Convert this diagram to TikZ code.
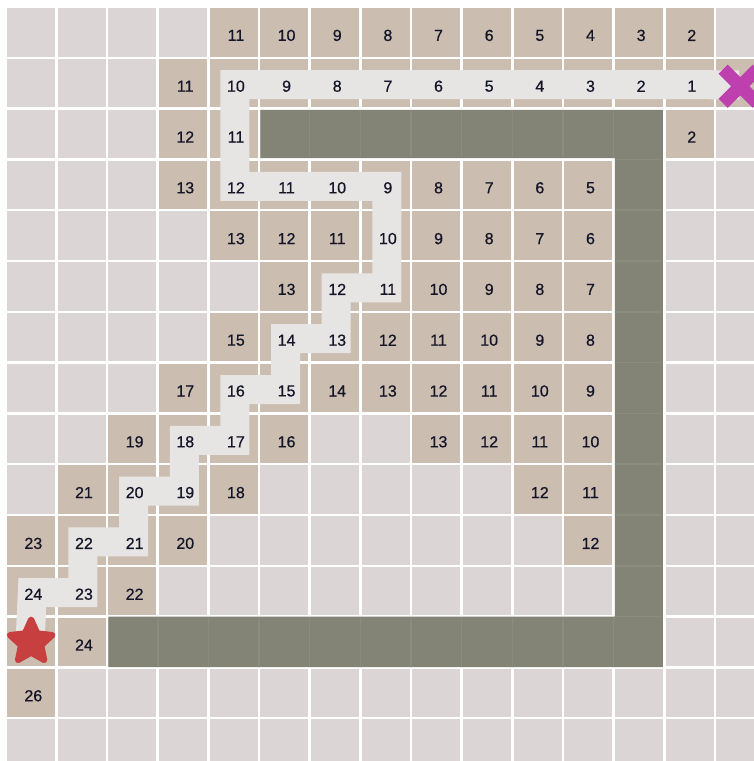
\documentclass[tikz,border=0pt]{standalone}
\usepackage{fontspec}
\setmainfont{Liberation Sans}
\newfontfamily\numfont[FakeBold=0.6]{Liberation Sans}
\usetikzlibrary{shapes.geometric,shapes.misc}
\definecolor{cellbg}{HTML}{DCD5D6}
\definecolor{celltan}{HTML}{CBBEB1}
\definecolor{pathc}{HTML}{E6E5E4}
\definecolor{wallc}{HTML}{838376}
\definecolor{wallseam}{HTML}{8B8B7F}
\definecolor{xmag}{HTML}{BD40AE}
\definecolor{starred}{HTML}{C73F3E}
\definecolor{numc}{HTML}{151528}
\pgfdeclarelayer{back}
\pgfsetlayers{back,main}
\tikzset{
  lbl/.style={font=\numfont\fontsize{16}{16}\selectfont, text=numc, inner sep=0pt, xshift=2.2pt, yshift=-3pt},
  cellfill/.style={fill=cellbg},
  tanfill/.style={fill=celltan},
  seam/.style={draw=wallseam, line width=1.5pt},
  pathband/.style={draw=pathc, line width=29pt, line join=miter, line cap=butt},
  goal/.style={cross out, draw=xmag, line width=13pt, minimum size=34pt, inner sep=0pt, outer sep=0pt},
  startstar/.style={star, star points=5, star point ratio=2.1, minimum size=45pt, inner sep=0pt,
    fill=starred, draw=starred, line width=6pt, line join=round}
}
\begin{document}
\begin{tikzpicture}[x=50.65pt, y=-50.8pt]
\useasboundingbox (-0.11451,-0.13780) rectangle (14.7522,14.8425);
% numbers
\foreach \c/\r/\t in {
 4/0/11,5/0/10,6/0/9,7/0/8,8/0/7,9/0/6,10/0/5,11/0/4,12/0/3,13/0/2,
 3/1/11,4/1/10,5/1/9,6/1/8,7/1/7,8/1/6,9/1/5,10/1/4,11/1/3,12/1/2,13/1/1,
 3/2/12,4/2/11,13/2/2,
 3/3/13,4/3/12,5/3/11,6/3/10,7/3/9,8/3/8,9/3/7,10/3/6,11/3/5,
 4/4/13,5/4/12,6/4/11,7/4/10,8/4/9,9/4/8,10/4/7,11/4/6,
 5/5/13,6/5/12,7/5/11,8/5/10,9/5/9,10/5/8,11/5/7,
 4/6/15,5/6/14,6/6/13,7/6/12,8/6/11,9/6/10,10/6/9,11/6/8,
 3/7/17,4/7/16,5/7/15,6/7/14,7/7/13,8/7/12,9/7/11,10/7/10,11/7/9,
 2/8/19,3/8/18,4/8/17,5/8/16,8/8/13,9/8/12,10/8/11,11/8/10,
 1/9/21,2/9/20,3/9/19,4/9/18,10/9/12,11/9/11,
 0/10/23,1/10/22,2/10/21,3/10/20,11/10/12,
 0/11/24,1/11/23,2/11/22,
 1/12/24,
 0/13/26}
 \node[lbl] (n-\c-\r) at (\c+0.5,\r+0.5) {\t};
\node[goal] (goal) at (14.5,1.56) {};
\node[startstar] (start) at (0.5,12.5) {};
\begin{pgfonlayer}{back}
\fill[white] (-0.11451,-0.13780) rectangle (14.7522,14.8425);
\foreach \c in {0,...,14}
  \foreach \r in {0,...,14}
    \fill[cellfill] (\c+0.025,\r+0.025) rectangle (\c+0.975,\r+0.975);
\foreach \c/\r in {
 4/0,5/0,6/0,7/0,8/0,9/0,10/0,11/0,12/0,13/0,
 3/1,4/1,5/1,6/1,7/1,8/1,9/1,10/1,11/1,12/1,13/1,14/1,
 3/2,4/2,13/2,
 3/3,4/3,5/3,6/3,7/3,8/3,9/3,10/3,11/3,
 4/4,5/4,6/4,7/4,8/4,9/4,10/4,11/4,
 5/5,6/5,7/5,8/5,9/5,10/5,11/5,
 4/6,5/6,6/6,7/6,8/6,9/6,10/6,11/6,
 3/7,4/7,5/7,6/7,7/7,8/7,9/7,10/7,11/7,
 2/8,3/8,4/8,5/8,8/8,9/8,10/8,11/8,
 1/9,2/9,3/9,4/9,10/9,11/9,
 0/10,1/10,2/10,3/10,11/10,
 0/11,1/11,2/11,
 0/12,1/12,
 0/13}
 \fill[tanfill] (\c+0.025,\r+0.025) rectangle (\c+0.975,\r+0.975);
% wall
\fill[wallc] (5.025,2.025) -- (12.975,2.025) -- (12.975,12.995) -- (2.025,12.995)
  -- (2.025,12.0) -- (12.025,12.0) -- (12.025,2.975) -- (5.025,2.975) -- cycle;
\foreach \c in {6,...,12} \draw[seam] (\c,2.05) -- (\c,2.95);
\foreach \c in {3,...,12} \draw[seam] (\c,12.03) -- (\c,12.97);
\foreach \r in {3,...,12} \draw[seam] (12.05,\r) -- (12.95,\r);
% path
\draw[pathband, transform canvas={shift={(-1pt,1.5pt)}}] (goal.center) -- (n-4-1.center) -- (n-4-3.center) -- (n-7-3.center)
  -- (n-7-5.center) -- (n-6-5.center) -- (n-6-6.center) -- (n-5-6.center)
  -- (n-5-7.center) -- (n-4-7.center) -- (n-4-8.center) -- (n-3-8.center)
  -- (n-3-9.center) -- (n-2-9.center) -- (n-2-10.center) -- (n-1-10.center)
  -- (n-1-11.center) -- (n-0-11.center) -- (start.center);
\end{pgfonlayer}
\end{tikzpicture}
\end{document}
